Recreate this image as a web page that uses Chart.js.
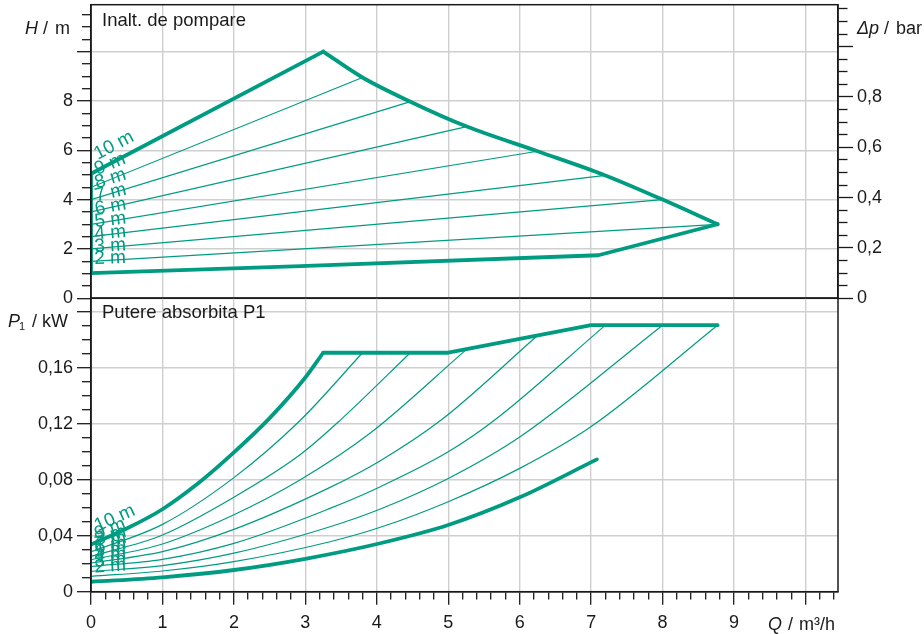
<!DOCTYPE html>
<html><head><meta charset="utf-8">
<script src="https://cdn.jsdelivr.net/npm/chart.js@4.4.1/dist/chart.umd.min.js"></script>
<style>
html,body{margin:0;padding:0;background:#fff;}
#wrap{position:relative;width:924px;height:634px;overflow:hidden;}
#cTop{position:absolute;left:0;top:0;width:924px;height:310px;}
#cBot{position:absolute;left:0;top:290px;width:924px;height:344px;}
</style></head><body>
<div id="wrap"><canvas id="cTop" width="924" height="310"></canvas><canvas id="cBot" width="924" height="344"></canvas></div>
<script>
const TEAL='#009c82',GRID='#cfcfcf',INK='#1a1a1a',NONE='rgba(0,0,0,0)';
const FONT="'Liberation Sans', Arial, sans-serif";

// ---- axes ----
const Q_MAX=10.455, H_MAX=11.9, M_PER_BAR=10.2, P_MAX=0.2098;
const Q_LABELS=[0,1,2,3,4,5,6,7,8,9];
const H_LABELS=[0,2,4,6,8];
const DP_LABELS=[0,0.2,0.4,0.6,0.8];
const P_LABELS=[0,0.04,0.08,0.12,0.16];

// ---- Inalt. de pompare (H / m over Q / m³/h) ----
const Q_HUP=[0,0,3.25];
const H_HUP=[1.02,5.05,10.0];
const Q_HMAX=[3.25,3.80,4.47,5.26,6.25,7.20,8.00,8.77];
const H_HMAX=[10.0,8.95,7.97,6.96,5.96,4.98,4.00,3.00];
const Q_HMIN=[8.77,7.10,2.93,0];
const H_HMIN=[3.00,1.745,1.30,1.02];
const SETS=['10 m','9 m','8 m','7 m','6 m','5 m','4 m','3 m','2 m'];
const H_SET_START=[5.05,4.50,4.00,3.50,3.00,2.50,2.00,1.50,1.02];
const Q_SET_END=[3.25,3.80,4.47,5.26,6.25,7.20,8.00,8.77,7.10];
const H_SET_END=[10.0,8.95,7.97,6.96,5.96,4.98,4.00,3.00,1.745];

// ---- Putere absorbita P1 (kW) ----
const Q_P10=[0,0.5,1,1.5,2,2.5,3,3.25];
const P_P10=[0.0337,0.0451,0.0589,0.0774,0.0995,0.124,0.153,0.1707];
const Q_PLIM=[3.25,5.0,7.0,8.77];
const P_PLIM=[0.1707,0.1707,0.1904,0.1904];
const Q_P9=[0,1,2,2.93,3.80];
const P_P9=[0.0285,0.0481,0.0815,0.1225,0.1707];
const Q_P8=[0,1,2,2.93,3.49,4.47];
const P_P8=[0.0252,0.0405,0.0675,0.098,0.1226,0.1707];
const Q_P7=[0,1,2,2.93,3.9,5.26];
const P_P7=[0.0228,0.0341,0.055,0.080,0.113,0.1733];
const Q_P6=[0,1,2,3.345,4.05,4.9,6.25];
const P_P6=[0.0205,0.0286,0.0445,0.0745,0.0936,0.1226,0.183];
const Q_P5=[0,1,2,3.345,4.05,5,5.65,7.20];
const P_P5=[0.0180,0.0231,0.0345,0.0595,0.075,0.0999,0.1226,0.1904];
const Q_P4=[0,1,2,3.345,4.05,5,6,8.0];
const P_P4=[0.0145,0.0186,0.0275,0.0464,0.0591,0.0809,0.1105,0.1904];
const Q_P3=[0,1,2,3.345,4.05,5,6,7,8.77];
const P_P3=[0.0110,0.0148,0.0215,0.0357,0.046,0.0643,0.0881,0.118,0.1904];
const Q_P2=[0,1,2,3,4.05,5,6,7.08];
const P_P2=[0.0071,0.0103,0.0155,0.0235,0.0346,0.0476,0.0674,0.0945];

const pts=(q,v)=>q.map((x,i)=>({x,y:v[i]}));
const steps=(a,b,d)=>{const r=[];for(let i=0;a+i*d<=b+1e-9;i++)r.push(+(a+i*d).toFixed(4));return r;};
const isMaj=(v,m)=>Math.abs(v/m-Math.round(v/m))<1e-6;
const fmt=v=>String(v).replace('.',',');
const tickFont={family:FONT,size:18};

function line(data,thick,smooth){
  return {data,pointRadius:0,borderColor:TEAL,borderWidth:thick?3.8:1.2,
    borderCapStyle:thick?'round':'butt',borderJoinStyle:thick?'round':'miter',
    cubicInterpolationMode:smooth?'monotone':'default',tension:smooth?0.3:0,fill:false};
}

const framePlugin={id:'frame',afterDatasetsDraw(c){const a=c.chartArea,x=c.ctx;x.save();x.strokeStyle=INK;x.lineWidth=1.5;x.strokeRect(a.left,a.top,a.right-a.left,a.bottom-a.top);x.restore();}};

function labelPlugin(lines){
  return {id:'setLabels',afterDatasetsDraw(c){
    const {ctx,scales:{x,y}}=c;
    ctx.save();ctx.fillStyle=TEAL;ctx.font='19px '+FONT;ctx.textBaseline='alphabetic';
    lines.forEach(l=>{
      const x0=x.getPixelForValue(l.q[0]),y0=y.getPixelForValue(l.v[0]);
      const x1=x.getPixelForValue(l.q[1]),y1=y.getPixelForValue(l.v[1]);
      const a=Math.atan2(y1-y0,x1-x0);
      ctx.save();ctx.translate(x0,y0);ctx.rotate(a);
      ctx.fillText(l.t,3+20*Math.abs(Math.sin(a)),-9);ctx.restore();
    });
    ctx.restore();
  }};
}

function textPlugin(items){
  return {id:'texts',afterDraw(c){
    const x=c.ctx;x.save();x.fillStyle=INK;x.textBaseline='alphabetic';
    items.forEach(t=>{x.font=(t.it?'italic ':'')+t.s+'px '+FONT;x.fillText(t.t,t.x,t.y);});
    x.restore();
  }};
}

// ════ top panel ════
const topSets=[];
for(let i=1;i<SETS.length-1;i++)topSets.push(line([{x:0,y:H_SET_START[i]},{x:Q_SET_END[i],y:H_SET_END[i]}],false,false));

new Chart(document.getElementById('cTop'),{
  type:'line',
  data:{datasets:[...topSets,
    line(pts(Q_HUP,H_HUP),true,false),
    line(pts(Q_HMAX,H_HMAX),true,true),
    line(pts(Q_HMIN,H_HMIN),true,false)]},
  options:{
    responsive:false,animation:false,events:[],
    layout:{padding:{top:4.7,left:0,right:0,bottom:0}},
    plugins:{legend:{display:false},tooltip:{enabled:false}},
    scales:{
      x:{type:'linear',min:0,max:Q_MAX,
        afterBuildTicks:s=>{s.ticks=steps(0,10,1).map(v=>({value:v}));},
        ticks:{display:false,autoSkip:false},
        grid:{color:c=>c.tick&&c.tick.value>0?GRID:NONE,lineWidth:1.4,drawTicks:false},
        border:{display:false},
        afterFit:s=>{s.height=310-298.3;s.paddingLeft=0;s.paddingRight=0;}},
      y:{type:'linear',position:'left',min:0,max:H_MAX,
        afterBuildTicks:s=>{s.ticks=steps(0,11.5,0.5).map(v=>({value:v}));},
        ticks:{color:INK,font:tickFont,padding:4,autoSkip:false,callback:v=>H_LABELS.includes(v)?String(v):''},
        grid:{color:c=>c.tick&&c.tick.value>0&&isMaj(c.tick.value,2)?GRID:NONE,lineWidth:1.4,
          tickLength:14,tickColor:INK,tickWidth:1.3,
          tickBorderDash:c=>c.tick&&isMaj(c.tick.value,2)?[]:[9,5],tickBorderDashOffset:9},
        border:{display:true,color:INK,width:1.5},
        afterFit:s=>{s.width=91;s.paddingTop=0;s.paddingBottom=0;}},
      yr:{type:'linear',position:'right',min:0,max:H_MAX/M_PER_BAR,
        afterBuildTicks:s=>{s.ticks=steps(0,1.15,0.05).map(v=>({value:v}));},
        ticks:{color:INK,font:tickFont,padding:4,autoSkip:false,callback:v=>DP_LABELS.includes(v)?fmt(v):''},
        grid:{drawOnChartArea:false,tickLength:15,tickColor:INK,tickWidth:1.3,
          tickBorderDash:c=>c.tick&&isMaj(c.tick.value,0.2)?[]:[9,6]},
        border:{display:true,color:INK,width:1.5},
        afterFit:s=>{s.width=86;s.paddingTop=0;s.paddingBottom=0;}}
    }
  },
  plugins:[framePlugin,
    labelPlugin(SETS.map((t,i)=>({t,q:[0,Q_SET_END[i]],v:[H_SET_START[i],H_SET_END[i]]}))),
    textPlugin([
      {t:'Inalt. de pompare',x:102,y:26,s:18.5},
      {t:'H',x:25,y:33.5,s:18,it:1},{t:'/',x:43,y:33.5,s:18},{t:'m',x:55,y:33.5,s:18},
      {t:'Δp',x:857,y:33.5,s:18,it:1},{t:'/',x:884,y:33.5,s:18},{t:'bar',x:896,y:33.5,s:18}
    ])]
});

// ════ bottom panel ════
const P_Q=[Q_P10,Q_P9,Q_P8,Q_P7,Q_P6,Q_P5,Q_P4,Q_P3,Q_P2];
const P_V=[P_P10,P_P9,P_P8,P_P7,P_P6,P_P5,P_P4,P_P3,P_P2];
const botSets=[];
for(let i=1;i<8;i++)botSets.push(line(pts(P_Q[i],P_V[i]),false,true));

new Chart(document.getElementById('cBot'),{
  type:'line',
  data:{datasets:[...botSets,
    line(pts(Q_P10,P_P10),true,true),
    line(pts(Q_PLIM,P_PLIM),true,false),
    line(pts(Q_P2,P_P2),true,true)]},
  options:{
    responsive:false,animation:false,events:[],
    layout:{padding:{top:8,left:0,right:86,bottom:0}},
    plugins:{legend:{display:false},tooltip:{enabled:false}},
    scales:{
      x:{type:'linear',min:0,max:Q_MAX,
        afterBuildTicks:s=>{s.ticks=steps(0,10.4,0.2).map(v=>({value:v}));},
        ticks:{color:INK,font:tickFont,padding:8,autoSkip:false,maxRotation:0,callback:v=>Q_LABELS.includes(v)?String(v):''},
        grid:{color:c=>c.tick&&c.tick.value>0&&isMaj(c.tick.value,1)?GRID:NONE,lineWidth:1.4,
          tickLength:13,tickColor:INK,tickWidth:1.3,
          tickBorderDash:c=>c.tick&&isMaj(c.tick.value,1)?[]:[7,6]},
        border:{display:true,color:INK,width:1.5},
        afterFit:s=>{s.height=344-301.7;s.paddingLeft=0;s.paddingRight=0;}},
      y:{type:'linear',position:'left',min:0,max:P_MAX,
        afterBuildTicks:s=>{s.ticks=steps(0,0.2,0.01).map(v=>({value:v}));},
        ticks:{color:INK,font:tickFont,padding:4,autoSkip:false,callback:v=>P_LABELS.includes(v)?fmt(v):''},
        grid:{color:c=>c.tick&&c.tick.value>0&&isMaj(c.tick.value,0.04)?GRID:NONE,lineWidth:1.4,
          tickLength:14,tickColor:INK,tickWidth:1.3,
          tickBorderDash:c=>c.tick&&isMaj(c.tick.value,0.04)?[]:[9,5],tickBorderDashOffset:9},
        border:{display:true,color:INK,width:1.5},
        afterFit:s=>{s.width=91;s.paddingTop=0;s.paddingBottom=0;}}
    }
  },
  plugins:[framePlugin,
    labelPlugin(SETS.map((t,i)=>({t,q:P_Q[i],v:P_V[i]}))),
    textPlugin([
      {t:'Putere absorbita P1',x:102,y:28.3,s:18.5},
      {t:'P',x:8,y:36.7,s:18,it:1},{t:'1',x:19,y:39.5,s:11},{t:'/',x:32,y:36.7,s:18},{t:'kW',x:42,y:36.7,s:18},
      {t:'Q',x:768,y:340,s:18,it:1},{t:'/',x:788,y:340,s:18},{t:'m³/h',x:799,y:340,s:18}
    ])]
});
</script>
</body></html>
